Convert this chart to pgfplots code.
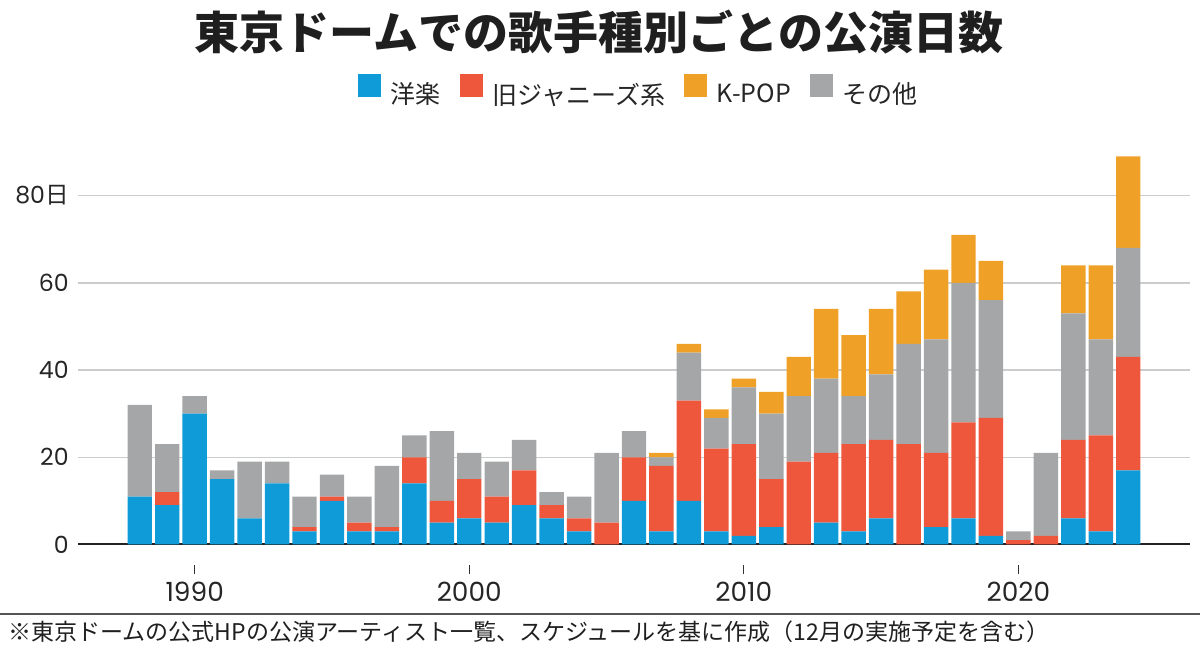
\documentclass[border=0pt]{standalone}
\usepackage{fontspec}
\setmainfont{Noto Sans CJK JP}
\newfontfamily\numfont{Poppins}
\usepackage{pgfplots}
\pgfplotsset{compat=1.18}
\usepackage{pgfplotstable}
\definecolor{cblue}{HTML}{0F9BD7}
\definecolor{cred}{HTML}{EE573C}
\definecolor{corange}{HTML}{EEA126}
\definecolor{cgray}{HTML}{A4A6A8}
\definecolor{cgrid}{HTML}{CCCCCC}
\definecolor{caxis}{HTML}{222222}
\definecolor{csep}{HTML}{555555}

\pgfplotstableread{
year blue red gray orange
1988 11 0 21 0
1989 9 3 11 0
1990 30 0 4 0
1991 15 0 2 0
1992 6 0 13 0
1993 14 0 5 0
1994 3 1 7 0
1995 10 1 5 0
1996 3 2 6 0
1997 3 1 14 0
1998 14 6 5 0
1999 5 5 16 0
2000 6 9 6 0
2001 5 6 8 0
2002 9 8 7 0
2003 6 3 3 0
2004 3 3 5 0
2005 0 5 16 0
2006 10 10 6 0
2007 3 15 2 1
2008 10 23 11 2
2009 3 19 7 2
2010 2 21 13 2
2011 4 11 15 5
2012 0 19 15 9
2013 5 16 17 16
2014 3 20 11 14
2015 6 18 15 15
2016 0 23 23 12
2017 4 17 26 16
2018 6 22 32 11
2019 2 27 27 9
2020 0 1 2 0
2021 0 2 19 0
2022 6 18 29 11
2023 3 22 22 17
2024 17 26 25 21
}\data

\pgfplotsset{sq/.style={legend image code/.code={\fill[#1] (0pt,-0.5pt) rectangle (11pt,10.5pt);}}}

\begin{document}
\begin{tikzpicture}
\useasboundingbox (0pt,0pt) rectangle (600pt,326pt);
\begin{axis}[
  at={(39pt,53.75pt)}, anchor=south west,
  scale only axis, width=556pt, height=196.3pt,
  xmin=1985.75, xmax=2026.25, ymin=0, ymax=90,
  ybar stacked, bar width=0.89,
  axis line style={draw=none},
  ymajorgrids, grid style={cgrid, line width=0.75pt},
  ytick={0,20,40,60,80}, yticklabels={0,20,40,60,80{\rmfamily 日}},
  ytick style={draw=none},
  yticklabel style={anchor=east, inner sep=0pt, xshift=0pt, font=\numfont\fontsize{11.8pt}{13pt}\selectfont, text=black!85},
  xtick={1990,2000,2010,2020}, xticklabels={1990,2000,2010,2020},
  xtick pos=left,
  tick align=outside, major tick length=4.5pt,
  xtick style={yshift=-10.5pt, draw=black!80, line width=0.6pt},
  xticklabel style={anchor=north, inner sep=0pt, yshift=-14pt, font=\numfont\fontsize{13.2pt}{15pt}\selectfont, text=black!85},
  legend style={at={(0.5036,1.157)}, anchor=center, draw=none, fill=none,
    legend columns=4, font=\fontsize{12.5pt}{15pt}\selectfont, text=black!85,
    nodes={inner sep=0pt},
    /tikz/every odd column/.append style={column sep=5pt},
    /tikz/every even column/.append style={column sep=9.5pt}},
]
\addplot[fill=cblue, draw=none, forget plot] table[x=year,y=blue]{\data};
\addplot[fill=cred, draw=none, forget plot] table[x=year,y=red]{\data};
\addplot[fill=cgray, draw=none, forget plot] table[x=year,y=gray]{\data};
\addplot[fill=corange, draw=none, forget plot] table[x=year,y=orange]{\data};
\addlegendimage{sq=cblue}\addlegendentry{洋楽}
\addlegendimage{sq=cred}\addlegendentry{旧ジャニーズ系}
\addlegendimage{sq=corange}\addlegendentry{K-POP}
\addlegendimage{sq=cgray}\addlegendentry{その他}
\draw[caxis, line width=1.5pt] (rel axis cs:0,0) -- (rel axis cs:1,0);
\end{axis}
\node[font=\fontsize{22.5pt}{27pt}\selectfont\bfseries, text=black!88] at (299.5pt,310pt) {東京ドームでの歌手種別ごとの公演日数};
\draw[csep, line width=1pt] (0pt,19pt) -- (600pt,19pt);
\node[anchor=west, inner sep=0pt, font=\fontsize{11.5pt}{13pt}\selectfont, text=black!88] at (4pt,10pt) {※東京ドームの公式HPの公演アーティスト一覧、スケジュールを基に作成（12月の実施予定を含む）};
\end{tikzpicture}
\end{document}
